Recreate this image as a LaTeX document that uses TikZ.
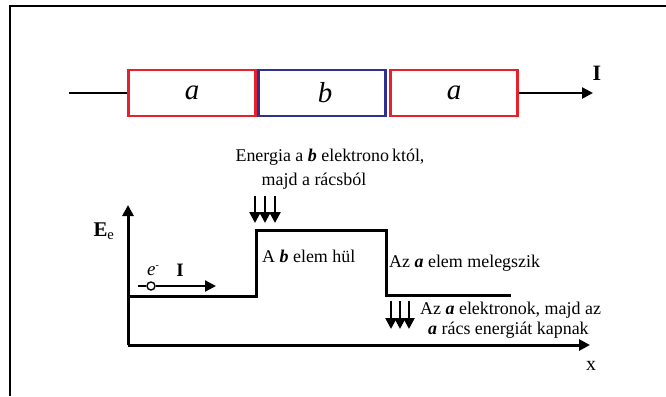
\documentclass[tikz,border=0pt]{standalone}
\usepackage{fontspec}
\setmainfont{Liberation Serif}
\usetikzlibrary{arrows.meta}
\definecolor{elemred}{RGB}{232,32,42}
\definecolor{elemblue}{RGB}{46,49,146}
\tikzset{
  elem/.style={shape=rectangle, draw, line width=2.2bp, minimum width=127bp, minimum height=46bp, inner sep=0pt, font=\fontsize{29}{31}\selectfont\itshape},
  lbl/.style={font=\fontsize{18}{20}\selectfont, inner sep=0pt},
  heavy/.style={line width=3bp},
  tip/.style={-{Triangle[length=11bp,width=11bp]}},
  heat/.style={line width=2.5bp, -{Triangle[length=11bp,width=11bp]}}
}
\begin{document}
\begin{tikzpicture}[x=1bp, y=-1bp]
  \useasboundingbox (0,0) rectangle (666,396);
  % frame
  \draw[line width=1.5bp] (10,396) -- (10,6) -- (666,6);

  % wire with the elements
  \node[elem, draw=elemred] (a1) at (192,93){a};
  \node[elem, draw=elemblue] (b) at (322,93){\hspace{6bp}b};
  \node[elem, draw=elemred] (a2) at (454,93){a};
  \coordinate (win) at (69,93);
  \coordinate (wout) at (593,93);
  \node[lbl, font=\fontsize{22}{24}\selectfont\bfseries] (cur) at (597,73){I};
  \draw[line width=2.5bp] (win) -- (a1.west);
  \draw[line width=2.5bp, tip] (a2.east) -- (wout);

  % axes
  \coordinate (o) at (128,345);
  \coordinate (ytop) at (128,205);
  \coordinate (xend) at (590,345);
  \draw[heavy, tip] (o) -- (ytop);
  \draw[heavy, tip] (o) -- (xend);
  \node[lbl, font=\fontsize{21}{23}\selectfont] (ee) at (104,231){\textbf{E}\textsubscript{e}};
  \node[lbl, font=\fontsize{20}{22}\selectfont] (xl) at (591,366){x};

  % energy level
  \coordinate (p1) at (128,296);
  \coordinate (p2) at (256,296);
  \coordinate (p3) at (256,230);
  \coordinate (p4) at (386,230);
  \coordinate (p5) at (386,295);
  \coordinate (p6) at (511,295);
  \draw[heavy] (p1) -- (p2) -- (p3) -- (p4) -- (p5) -- (p6);

  % electron
  \node[shape=circle, draw, line width=1.4bp, fill=white, minimum size=8bp, inner sep=0pt] (el) at (151,286){};
  \coordinate (etail) at (138,286);
  \coordinate (ehead) at (216,286);
  \draw[line width=2.2bp] (etail) -- (el.west);
  \draw[line width=2.2bp, tip] (el.east) -- (ehead);
  \node[lbl, font=\fontsize{19}{21}\selectfont] (eminus) at (153,271){\textit{e}\raisebox{7bp}{\fontsize{10}{10}\selectfont -}};
  \node[lbl, font=\fontsize{19}{21}\selectfont\bfseries] (ecur) at (180,270){I};

  % heat arrows
  \foreach \i/\x in {1/255,2/265,3/275}{
    \coordinate (ua\i) at (\x,196);
    \coordinate (ub\i) at (\x,223);
    \draw[heat] (ua\i) -- (ub\i);
  }
  \foreach \i/\x in {1/391,2/400,3/409}{
    \coordinate (da\i) at (\x,301);
    \coordinate (db\i) at (\x,329);
    \draw[heat] (da\i) -- (db\i);
  }

  % texts
  \node[lbl] (t1) at (330,157){Energia a \textbf{\textit{b}} elektrono\kern3bp któl,};
  \node[lbl] (t2) at (314,181){majd a rácsból};
  \node[lbl, anchor=west] (t3) at (262,256){A \textbf{\textit{b}} elem hül};
  \node[lbl, anchor=west] (t4) at (389,263){Az \textbf{\textit{a}} elem melegszik};
  \node[lbl, anchor=west] (t5) at (420,310){Az \textbf{\textit{a}} elektronok, majd az};
  \node[lbl, anchor=west] (t6) at (428,330){\textbf{\textit{a}} rács energiát kapnak};
\end{tikzpicture}
\end{document}
